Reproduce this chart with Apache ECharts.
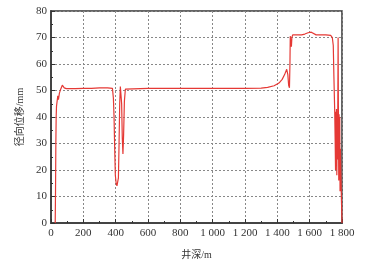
<!DOCTYPE html>
<html>
<head>
<meta charset="utf-8">
<script src="https://cdn.jsdelivr.net/npm/echarts@6/dist/echarts.min.js"></script>
<style>
html, body { margin: 0; padding: 0; background: #fff; }
#chart { width: 368px; height: 265px; }
</style>
</head>
<body>
<div id="chart"></div>
<script>
// 井深 (m) 与 径向位移 (mm)
var depth = [
    26, 28, 30, 32, 34, 38, 42, 46, 52, 60, 70, 76, 82, 95,
    150, 200, 250, 300, 350, 380, 386, 390, 394, 398, 403, 408, 413, 417, 421, 425, 429,
    433, 437, 441, 445, 449, 454, 460, 470, 600, 800, 1000, 1200, 1300, 1340,
    1380, 1410, 1430, 1445, 1458, 1465, 1470, 1475, 1478, 1480, 1484, 1487, 1490, 1495,
    1520, 1550, 1570, 1590, 1600, 1610, 1620, 1640, 1670, 1700, 1730, 1740, 1746, 1750,
    1755, 1758, 1760, 1762, 1764, 1766, 1768, 1770, 1772, 1774, 1776, 1778, 1780, 1782,
    1784, 1786, 1788, 1790, 1793, 1796, 1800
];
var displacement = [
    0, 12, 30, 40, 44, 43.5, 48, 46.5, 49, 50.5, 52, 52.6, 51, 50.7,
    50.7, 50.8, 50.8, 51, 51, 50.8, 47, 40, 28, 18, 15, 14, 13.5, 17, 30, 45, 51.5,
    51.5, 45, 32, 26, 33, 46, 50.5, 50.8, 50.8, 50.8, 50.8, 50.8, 50.9, 51.2,
    51.8, 52.8, 54.2, 56, 58, 56, 52, 51, 60, 70.5, 71, 66.5, 70, 71,
    71, 71, 71.3, 71.8, 71.2, 72, 71.3, 71, 71, 71, 70.8, 70, 67, 55,
    42, 30, 20, 42, 22, 43, 18, 40, 24, 44, 70, 38, 16, 41,
    22, 40, 12, 28, 18, 10, 0
];
var xTickLabels = ['0', '200', '400', '600', '800', '1 000', '1 200', '1 400', '1 600', '1 800'];
var yTickLabels = ['0', '10', '20', '30', '40', '50', '60', '70', '80'];

var points = [];
for (var i = 0; i < depth.length; i++) {
    points.push([depth[i], displacement[i]]);
}

var numFont = 'Liberation Serif, Noto Sans CJK SC, serif';

var myChart = echarts.init(document.getElementById('chart'));
var option = {
    animation: false,
    grid: {
        left: 51,
        right: 26,
        top: 11,
        bottom: 37,
        show: true,
        borderColor: '#333',
        borderWidth: 1.5
    },
    xAxis: {
        type: 'value',
        min: 0,
        max: 1800,
        interval: 200,
        name: '井深/m',
        nameLocation: 'middle',
        nameGap: 27,
        nameTextStyle: { fontFamily: numFont, fontSize: 10, color: '#333' },
        axisLine: { show: true, onZero: false, lineStyle: { color: '#444', width: 2 } },
        axisTick: { show: true, inside: true, length: 4, lineStyle: { color: '#333' } },
        minorTick: { show: true, splitNumber: 2, length: 2, lineStyle: { color: '#333' } },
        axisLabel: {
            fontFamily: numFont,
            fontSize: 11,
            color: '#333',
            margin: 5,
            formatter: function (v) { return xTickLabels[Math.round(v / 200)]; }
        },
        splitLine: { show: true, lineStyle: { color: '#888', type: [2, 2], width: 1 } }
    },
    yAxis: {
        type: 'value',
        min: 0,
        max: 80,
        interval: 10,
        name: '径向位移/mm',
        nameLocation: 'middle',
        nameGap: 25,
        nameTextStyle: { fontFamily: numFont, fontSize: 10, color: '#333' },
        axisLine: { show: true, onZero: false, lineStyle: { color: '#444', width: 2 } },
        axisTick: { show: true, inside: true, length: 4, lineStyle: { color: '#333' } },
        minorTick: { show: true, splitNumber: 2, length: 2, lineStyle: { color: '#333' } },
        axisLabel: {
            fontFamily: numFont,
            fontSize: 11,
            color: '#333',
            margin: 4,
            formatter: function (v) { return yTickLabels[Math.round(v / 10)]; }
        },
        splitLine: { show: true, lineStyle: { color: '#888', type: [2, 2], width: 1 } }
    },
    series: [
        {
            type: 'line',
            data: points,
            showSymbol: false,
            lineStyle: { color: '#e53935', width: 1.2 },
            clip: true
        }
    ]
};
myChart.setOption(option);
</script>
</body>
</html>
